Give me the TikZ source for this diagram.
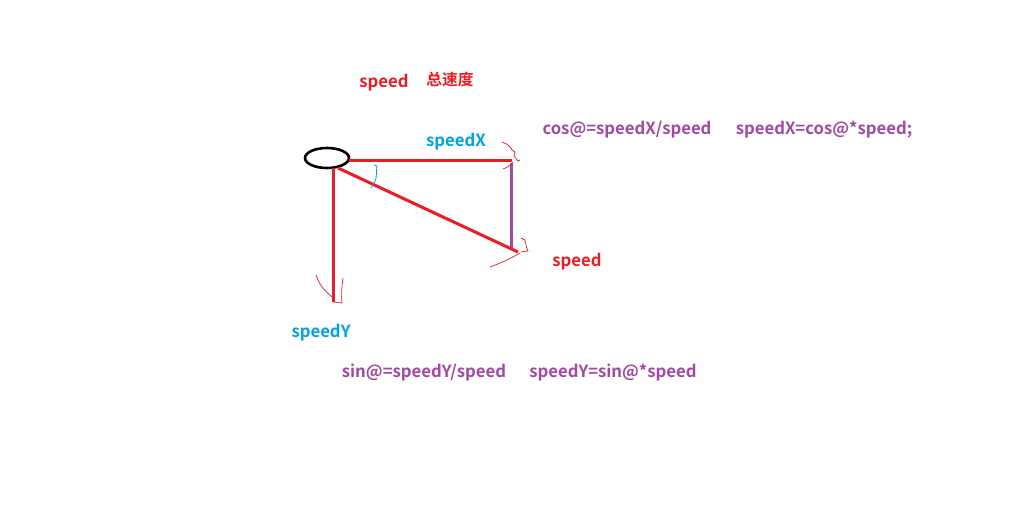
\documentclass[tikz,border=0pt]{standalone}
\usepackage{fontspec}
\usetikzlibrary{shapes.geometric}
\setmainfont{Noto Sans CJK SC}[BoldFont={* Bold}]
\definecolor{pred}{RGB}{237,28,36}
\definecolor{ppurple}{RGB}{163,73,164}
\definecolor{pblue}{RGB}{0,162,232}
\begin{document}
\begin{tikzpicture}[x=1pt,y=-1pt,
  lbl/.style={font=\fontsize{16.7}{18}\selectfont\bfseries, inner sep=0pt, yshift=-2pt},
  thick line/.style={line width=3pt, pred},
  squiggle/.style={pred, line width=0.7pt},
]
\useasboundingbox[fill=white] (0,0) rectangle (1018,509);
% ball
\node[draw=black, line width=2.6pt, ellipse, minimum width=44pt, minimum height=20pt, inner sep=0pt] (ball) at (327,158) {};
\coordinate (hx) at (512,160);
\coordinate (dv) at (518,252);
\coordinate (vy) at (333,302);
\coordinate (pv) at (511,163);
\coordinate (pb) at (511,249);
\draw[thick line] (349,160) -- (hx);
\draw[line width=3pt, ppurple] (pv) -- (pb);
\draw[thick line] (338,168) -- (dv);
\draw[thick line] (333,168) -- (vy);
% hand-drawn arrowheads
\draw[squiggle] (502,142) .. controls (508,144) and (511,147) .. (512,150) -- (515,152) -- (514,156) -- (518,161) -- (520,160);
\draw[squiggle] (513,162) .. controls (510,166) and (506,168) .. (503,169);
\draw[squiggle] (521,238) -- (525,240) .. controls (526,244) and (526,247) .. (528,251) -- (521,252);
\draw[squiggle] (520,253) .. controls (508,260) and (498,264) .. (490,267);
\draw[squiggle] (316,275) -- (318,280) .. controls (321,287) and (326,292) .. (332,297);
\draw[squiggle] (333,302) -- (342,303) .. controls (341,295) and (342,285) .. (343,278);
% angle mark
\draw[pblue, line width=0.8pt] (374,165) -- (377,166) .. controls (376,172) and (377,178) .. (375,181) -- (371,188);
% texts
\node[lbl, text=pred] (sp1) at (384,81) {speed};
\node[lbl, text=pred, font=\fontsize{15.7}{17}\selectfont\bfseries] (zsd) at (450,77) {总速度};
\node[lbl, text=pblue] (sx) at (456,140) {speedX};
\node[lbl, text=ppurple] (cos1) at (627,128) {cos@=speedX/speed};
\node[lbl, text=ppurple] (cos2) at (824,128) {speedX=cos@*speed;};
\node[lbl, text=pred] (sp2) at (577,260) {speed};
\node[lbl, text=pblue] (sy) at (321,331) {speedY};
\node[lbl, text=ppurple] (sin1) at (424,371) {sin@=speedY/speed};
\node[lbl, text=ppurple] (sin2) at (613,371) {speedY=sin@*speed};
\end{tikzpicture}
\end{document}
